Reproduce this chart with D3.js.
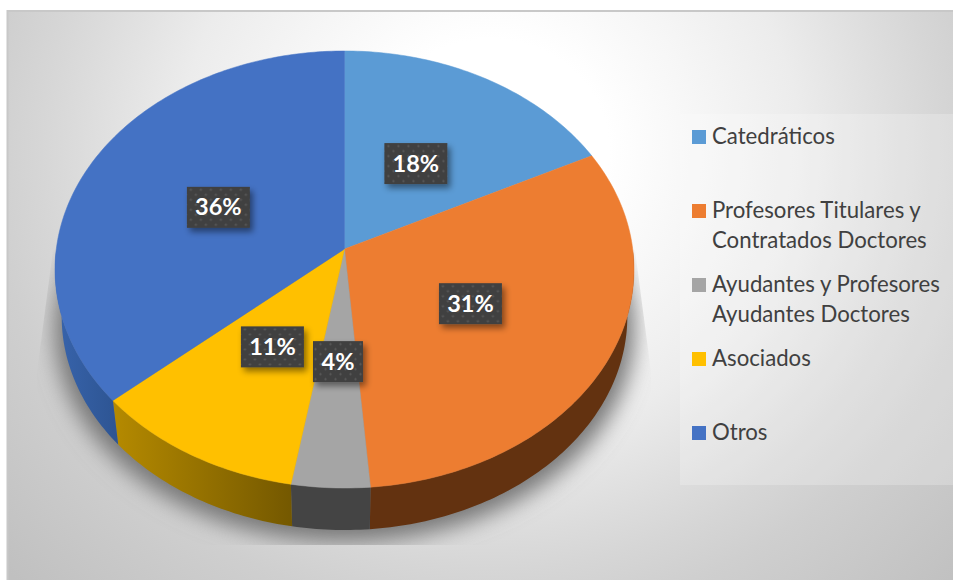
<!DOCTYPE html>
<html>
<head>
<meta charset="utf-8">
<script src="https://cdnjs.cloudflare.com/ajax/libs/d3/7.8.5/d3.min.js"></script>
<style>
    html, body { margin: 0; padding: 0; background: #fff; overflow: hidden; }
    svg { display: block; }
    text { font-family: Lato, "Open Sans", sans-serif; }
</style>
</head>
<body>
<svg id="chart" width="953" height="580"></svg>
<script>
var categories = ["Catedráticos", "Profesores Titulares y Contratados Doctores", "Ayudantes y Profesores Ayudantes Doctores", "Asociados", "Otros"];
var legendLines = [["Catedráticos"], ["Profesores Titulares y", "Contratados Doctores"], ["Ayudantes y Profesores", "Ayudantes Doctores"], ["Asociados"], ["Otros"]];
var values = [17.6, 31.1, 4.0, 10.9, 36.4];
var labels = ["18%", "31%", "4%", "11%", "36%"];
var topColors = ["#5b9bd5", "#ed7d31", "#a5a5a5", "#ffc000", "#4472c4"];

var svg = d3.select("#chart");
var defs = svg.append("defs");

// background
var bg = defs.append("radialGradient").attr("id", "bg")
    .attr("gradientUnits", "userSpaceOnUse")
    .attr("cx", 0).attr("cy", 0).attr("r", 1)
    .attr("gradientTransform", "translate(490,150) scale(660,616)");
[[0, "#ffffff"], [0.18, "#ffffff"], [0.32, "#f6f6f6"], [0.47, "#ececec"], [0.62, "#dcdcdc"],
    [0.68, "#d6d6d6"], [0.76, "#cfcfcf"], [1, "#c0c0c0"]].forEach(function (s) {
    bg.append("stop").attr("offset", s[0]).attr("stop-color", s[1]);
});

svg.append("rect").attr("x", 7).attr("y", 11).attr("width", 946).attr("height", 569).attr("fill", "url(#bg)");
svg.append("path").attr("d", d3.line()([[7.5, 580], [7.5, 11], [953, 11]]))
    .attr("fill", "none").attr("stroke", "#c8c8c8").attr("stroke-width", 2);

// legend panel
svg.append("rect").attr("x", 680).attr("y", 114).attr("width", 273).attr("height", 371)
    .attr("fill", "#fff").attr("fill-opacity", 0.22);

// perspective pie: unit circle -> screen
var cx = 344.5, apexY = 249, a = 288.2, b = 216.6, k = 0.0938;
var sideScale = 0.977, sideApexY = 296.5;

function project(angle, r) {
    var u = r * Math.sin(angle), v = r * Math.cos(angle);
    var w = 1 + k * v;
    return [cx + a * u / w, apexY - b * v / w];
}
function projectBottom(angle) {
    var p = project(angle, 1);
    return [cx + sideScale * (p[0] - cx), sideApexY + sideScale * (p[1] - apexY)];
}
function arcAngles(d) {
    var n = Math.ceil((d.endAngle - d.startAngle) * 60);
    return d3.range(n + 1).map(function (i) { return d.startAngle + (d.endAngle - d.startAngle) * i / n; });
}

var pie = d3.pie().sort(null)(values);
var line = d3.line().curve(d3.curveLinear);

// shadow under the pie
var shadowFilter = defs.append("filter").attr("id", "pieShadow")
    .attr("filterUnits", "userSpaceOnUse").attr("x", 0).attr("y", 0).attr("width", 953).attr("height", 580);
shadowFilter.append("feGaussianBlur").attr("stdDeviation", 11);
defs.append("clipPath").attr("id", "shadowClip").append("path")
    .attr("d", d3.line()([[53, 250], [37, 372], [37, 545], [651, 545], [651, 372], [635, 250]]) + "Z");

var wholeRim = d3.range(0, 361, 2).map(function (deg) { return projectBottom(deg * Math.PI / 180); });
svg.append("g").attr("clip-path", "url(#shadowClip)").append("path")
    .attr("d", line(wholeRim.map(function (p) { return [p[0] + (p[0] - cx) * 0.025, p[1] + 12]; })) + "Z")
    .attr("fill", "#777777").attr("filter", "url(#pieShadow)");

// side gradients, one per slice
var sideStops = [
    ["#2f4f7f", "#2f4f7f"],
    ["#633210", "#633210"],
    ["#444444", "#444444"],
    ["#b58a00", "#745800"],
    ["#3864ac", "#2d5492"]
];
pie.forEach(function (d, i) {
    var g = defs.append("linearGradient").attr("id", "side" + i)
        .attr("gradientUnits", "objectBoundingBox");
    g.append("stop").attr("offset", "0").attr("stop-color", sideStops[i][0]);
    g.append("stop").attr("offset", "1").attr("stop-color", sideStops[i][1]);
});

// only the front half of the rim can show
svg.append("g").selectAll("path").data(pie).enter().append("path")
    .attr("d", function (d) {
        var ang = arcAngles(d).filter(function (t) { return Math.cos(t) < 0; });
        if (ang.length < 2) return null;
        return line(ang.map(function (t) { return project(t, 1); })
            .concat(ang.slice().reverse().map(projectBottom))) + "Z";
    })
    .attr("fill", function (d, i) { return "url(#side" + i + ")"; });

svg.append("g").selectAll("path").data(pie).enter().append("path")
    .attr("d", function (d) {
        return line([project(0, 0)].concat(arcAngles(d).map(function (t) { return project(t, 1); }))) + "Z";
    })
    .attr("fill", function (d, i) { return topColors[i]; })
    .attr("stroke", function (d, i) { return topColors[i]; })
    .attr("stroke-width", 0.5);

// data labels
var dots = defs.append("pattern").attr("id", "dots").attr("patternUnits", "userSpaceOnUse")
    .attr("width", 10).attr("height", 10);
dots.append("rect").attr("width", 10).attr("height", 10).attr("fill", "#404040");
[[2.5, 2.5], [7.5, 7.5]].forEach(function (c) {
    dots.append("circle").attr("cx", c[0]).attr("cy", c[1]).attr("r", 1.1).attr("fill", "#5c5c5c");
});
var labelShadow = defs.append("filter").attr("id", "labelShadow")
    .attr("x", "-30%").attr("y", "-30%").attr("width", "160%").attr("height", "170%");
labelShadow.append("feDropShadow").attr("dx", 3).attr("dy", 4).attr("stdDeviation", 3)
    .attr("flood-color", "#000").attr("flood-opacity", 0.45);

var labelGroup = svg.append("g").selectAll("g").data(pie).enter().append("g")
    .attr("transform", function (d) {
        var p = project((d.startAngle + d.endAngle) / 2, 0.49);
        return "translate(" + p[0] + "," + (p[1] + 1.5) + ")";
    });
labelGroup.append("rect")
    .attr("x", function (d, i) { return labels[i].length > 2 ? -31.5 : -25; })
    .attr("width", function (d, i) { return labels[i].length > 2 ? 63 : 50; })
    .attr("y", -20.5).attr("height", 41)
    .attr("fill", "url(#dots)").attr("filter", "url(#labelShadow)");
labelGroup.append("text")
    .attr("text-anchor", "middle").attr("y", 8)
    .attr("fill", "#fff").attr("font-weight", 700).attr("font-size", 23.5)
    .text(function (d, i) { return labels[i]; });

// legend
var legendY = d3.scalePoint().domain(categories).range([136, 432]);
var legend = svg.append("g").selectAll("g").data(categories).enter().append("g")
    .attr("transform", function (d) { return "translate(692," + legendY(d) + ")"; });
legend.append("rect").attr("x", 0).attr("y", -6).attr("width", 14).attr("height", 14)
    .attr("fill", function (d, i) { return topColors[i]; });
legend.each(function (d, i) {
    d3.select(this).selectAll("text").data(legendLines[i]).enter().append("text")
        .attr("x", 20)
        .attr("y", function (t, j) { return 8 + j * 30; })
        .attr("fill", "#404040").attr("font-size", 22.2)
        .text(function (t) { return t; });
});
</script>
</body>
</html>
